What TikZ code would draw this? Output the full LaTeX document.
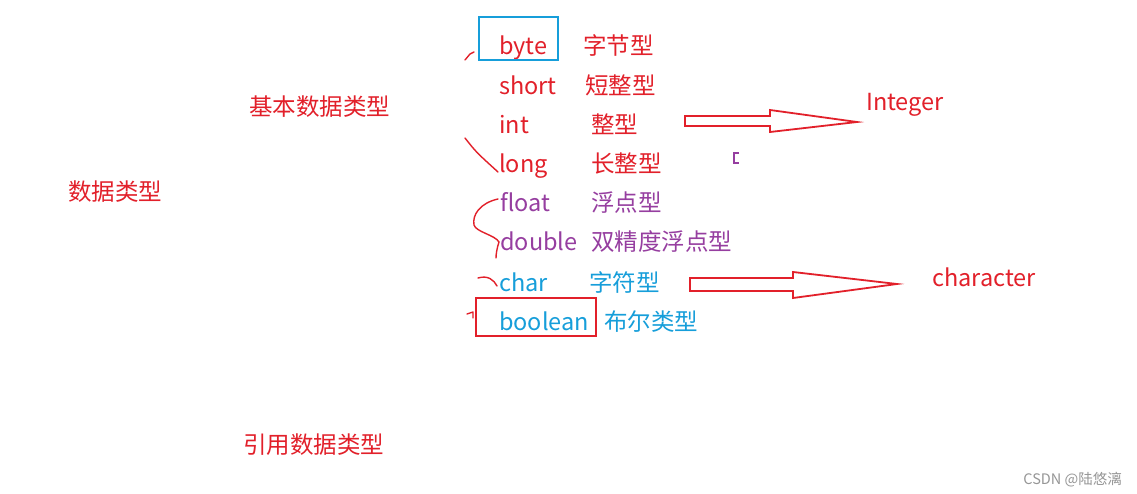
\documentclass[tikz,border=0pt]{standalone}
\usepackage{fontspec}
\setmainfont{Noto Sans CJK SC}
\definecolor{rd}{RGB}{226,32,42}
\definecolor{pu}{RGB}{150,62,160}
\definecolor{bl}{RGB}{22,158,218}
\definecolor{wm}{RGB}{150,150,150}
\tikzset{
  txt/.style={inner sep=0pt, anchor=base west, font=\fontsize{23.5}{28}\selectfont},
  penmark/.style={draw=rd, line width=1.4pt, line cap=round, line join=round},
  fatarrow/.style={draw=rd, line width=1.8pt, fill=white, line join=miter},
}
\begin{document}
\begin{tikzpicture}[x=1pt,y=-1pt]
\useasboundingbox (0,0) rectangle (1137,494);
\fill[white] (0,0) rectangle (1137,494);

% left labels
\node[txt, text=rd] (sjlx) at (68,201) {数据类型};
\node[txt, text=rd] (jb) at (249,116) {基本数据类型};
\node[txt, text=rd] (yy) at (243,453) {引用数据类型};

% type names
\node[txt, text=rd] (byte) at (499,55) {byte};
\node[txt, text=rd] (short) at (499,95) {short};
\node[txt, text=rd] (int) at (499,134) {int};
\node[txt, text=rd] (long) at (499,173) {long};
\node[txt, text=pu] (float) at (500,212) {float};
\node[txt, text=pu] (double) at (500,251) {double};
\node[txt, text=bl] (char) at (499,291) {char};
\node[txt, text=bl] (boolean) at (499,330) {boolean};

% chinese names
\node[txt, text=rd] (cbyte) at (583,55) {字节型};
\node[txt, text=rd] (cshort) at (585,95) {短整型};
\node[txt, text=rd] (cint) at (591,134) {整型};
\node[txt, text=rd] (clong) at (591,173) {长整型};
\node[txt, text=pu] (cfloat) at (591,212) {浮点型};
\node[txt, text=pu] (cdouble) at (591,251) {双精度浮点型};
\node[txt, text=bl] (cchar) at (589,291) {字符型};
\node[txt, text=bl] (cboolean) at (604,330) {布尔类型};

% wrapper names
\node[txt, text=rd] (integer) at (866,111) {Integer};
\node[txt, text=rd] (character) at (932,286) {character};

% boxes
\draw[draw=bl, line width=2.4pt] (479,17) rectangle (558,60);
\draw[draw=rd, line width=2.4pt] (476,298) rectangle (596,336);

% fat arrows
\draw[fatarrow] (685,116) -- (770,116) -- (770,110) -- (857,122) -- (770,132) -- (770,126) -- (685,126) -- cycle;
\draw[fatarrow] (690,278) -- (793,278) -- (793,272) -- (897,284) -- (793,298) -- (793,291) -- (690,291) -- cycle;

% hand marks
\draw[penmark] (465,60) -- (470,54) -- (474,52);
\draw[penmark] (465,138) .. controls (476,152) .. (498,172);
\draw[penmark] (498,199) .. controls (480,203) and (472,215) .. (474,225) .. controls (476,232) and (495,235) .. (499,242) .. controls (497,248) and (496,254) .. (496,258);
\draw[penmark] (478,278) .. controls (488,275) and (494,280) .. (497,286);
\draw[penmark] (467,314) -- (473,312) -- (473,318);
\draw[draw=pu, line width=1.8pt] (739,153) -- (734,153) -- (734,163) -- (739,163);

% watermark
\node[inner sep=0pt, anchor=base east, text=wm, font=\fontsize{14.5}{16}\selectfont] (csdn) at (1122,484) {CSDN @陆悠漓};
\end{tikzpicture}
\end{document}
